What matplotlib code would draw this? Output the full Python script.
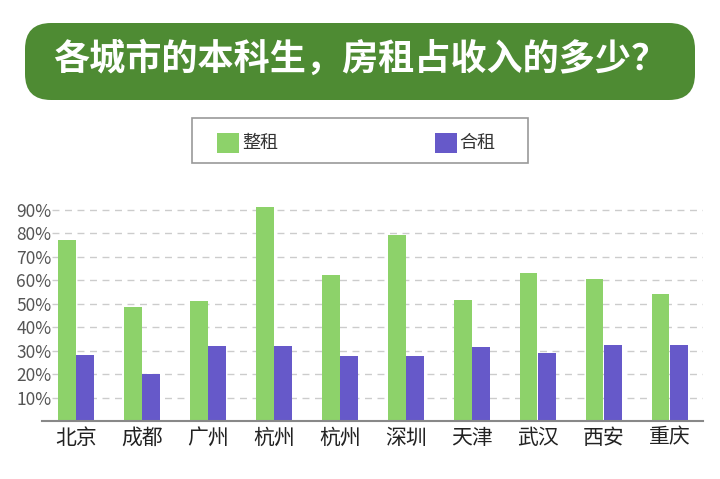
import matplotlib
matplotlib.use('Agg')
import matplotlib.pyplot as plt
from matplotlib.patches import FancyBboxPatch, Rectangle
import numpy as np

plt.rcParams['font.family'] = ['Noto Sans CJK SC', 'DejaVu Sans']

# 数据
cities = ['北京', '成都', '广州', '杭州', '杭州', '深圳', '天津', '武汉', '西安', '重庆']
whole_rent = [0.77, 0.485, 0.51, 0.91, 0.62, 0.79, 0.515, 0.63, 0.605, 0.54]
shared_rent = [0.28, 0.20, 0.32, 0.32, 0.275, 0.275, 0.315, 0.29, 0.325, 0.325]
yticks = [0.1, 0.2, 0.3, 0.4, 0.5, 0.6, 0.7, 0.8, 0.9]
ytick_labels = ['10%', '20%', '30%', '40%', '50%', '60%', '70%', '80%', '90%']

green = '#8dd26a'
purple = '#6659c9'

fig = plt.figure(figsize=(7.2, 4.79), dpi=100)

# 标题 (英寸坐标，圆角)
box = FancyBboxPatch((0.25, 3.79), 6.70, 0.77,
                     boxstyle='round,pad=0,rounding_size=0.26',
                     transform=fig.dpi_scale_trans, facecolor='#4e8b33',
                     edgecolor='none')
fig.patches.append(box)
fig.text(0.5, 0.877, '各城市的本科生，房租占收入的多少？', ha='center', va='center',
         color='white', fontsize=26, fontweight='bold')

# 图例
fig.patches.append(Rectangle((0.267, 0.66), 0.467, 0.094, transform=fig.transFigure,
                             facecolor='white', edgecolor='#999999', linewidth=1.2))
fig.patches.append(Rectangle((0.301, 0.681), 0.031, 0.042, transform=fig.transFigure,
                             facecolor=green, edgecolor='none'))
fig.text(0.336, 0.702, '整租', fontsize=13, va='center', color='#333333')
fig.patches.append(Rectangle((0.604, 0.681), 0.031, 0.042, transform=fig.transFigure,
                             facecolor=purple, edgecolor='none'))
fig.text(0.638, 0.702, '合租', fontsize=13, va='center', color='#333333')

# 柱状图
ax = fig.add_axes([0.058, 0.121, 0.918, 0.466])
x = np.arange(len(cities))
w = 0.27
for y in yticks:
    ax.axhline(y, xmin=0.015, color='#cccccc', linestyle=(0, (5, 4)), linewidth=1, zorder=0)
ax.bar(x - w / 2 - 0.005, whole_rent, width=w, color=green, zorder=2)
ax.bar(x + w / 2 + 0.005, shared_rent, width=w, color=purple, zorder=2)

ax.set_xlim(-0.52, 9.5)
ax.set_ylim(0, 0.95)
ax.set_xticks(x)
ax.set_xticklabels(cities, fontsize=15, color='#222222')
ax.set_yticks(yticks)
ax.set_yticklabels(ytick_labels, fontsize=12.5, color='#555555')
ax.tick_params(axis='both', length=0)
ax.tick_params(axis='y', pad=-7)
ax.tick_params(axis='x', pad=4)
for s in ['top', 'right', 'left']:
    ax.spines[s].set_visible(False)
ax.spines['bottom'].set_color('#888888')
ax.spines['bottom'].set_linewidth(1.5)

plt.savefig('out.png', dpi=100)
